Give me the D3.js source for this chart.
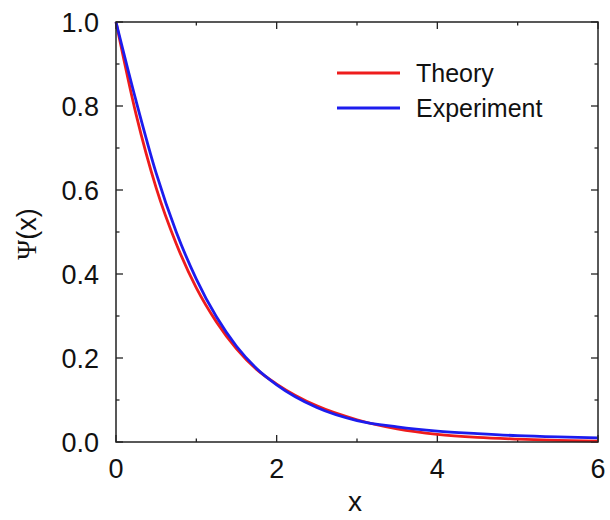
<!DOCTYPE html>
<html>
<head>
<meta charset="utf-8">
<script src="https://cdn.jsdelivr.net/npm/d3@7"></script>
<style>
  body { margin: 0; background: #fff; }
  text { font-family: "Liberation Sans", Arial, sans-serif; fill: #111; }
</style>
</head>
<body>
<div class="chart"></div>
<script>
const width = 610, height = 520

// values
const xs         = [0, 0.25, 0.5, 0.75, 1, 1.25, 1.5, 1.75, 2, 2.5, 3, 3.5, 4, 4.5, 5, 5.5, 6]
const theory     = [1.0, 0.78, 0.605, 0.472, 0.367, 0.286, 0.222, 0.173, 0.138, 0.086, 0.053, 0.031, 0.018, 0.011, 0.007, 0.004, 0.002]
const experiment = [1.0, 0.812, 0.64, 0.5, 0.388, 0.298, 0.228, 0.175, 0.136, 0.082, 0.051, 0.036, 0.026, 0.02, 0.015, 0.012, 0.01]
const seriesNames = ['Theory', 'Experiment']
const seriesColors = ['#ee1c1c', '#1c1cee']
const xTicks = [0, 2, 4, 6]
const yTicks = [0, 0.2, 0.4, 0.6, 0.8, 1.0]

const margin = { top: 22, right: 12, bottom: 78, left: 116 }

const svg = d3.select('.chart').append('svg')
    .attr('width', width)
    .attr('height', height)

const x = d3.scaleLinear().domain([0, 6]).range([margin.left, width - margin.right])
const y = d3.scaleLinear().domain([0, 1]).range([height - margin.bottom, margin.top])

const x0 = x.range()[0], x1 = x.range()[1]
const y0 = y.range()[0], y1 = y.range()[1]

// inward ticks on all four sides, gnuplot style
const major = 7, minor = 3.5
const tickStyle = g => g.selectAll('line').attr('stroke', '#222').attr('stroke-width', 1.3)

const xMinor = d3.range(0, 6.01, 1)
const yMinor = d3.range(0, 1.001, 0.1)

const ticks = svg.append('g').attr('class', 'ticks')
xMinor.forEach(v => {
    const len = v % 2 === 0 ? major : minor
    ticks.append('line').attr('x1', x(v)).attr('x2', x(v)).attr('y1', y0).attr('y2', y0 - len)
    ticks.append('line').attr('x1', x(v)).attr('x2', x(v)).attr('y1', y1).attr('y2', y1 + len)
})
yMinor.forEach((v, i) => {
    const len = i % 2 === 0 ? major : minor
    ticks.append('line').attr('x1', x0).attr('x2', x0 + len).attr('y1', y(v)).attr('y2', y(v))
    ticks.append('line').attr('x1', x1).attr('x2', x1 - len).attr('y1', y(v)).attr('y2', y(v))
})
ticks.call(tickStyle)

// tick labels
svg.append('g').selectAll('text')
    .data(xTicks)
    .enter().append('text')
    .attr('x', d => x(d))
    .attr('y', y0 + 36)
    .attr('text-anchor', 'middle')
    .style('font-size', '27px')
    .text(d => d)

svg.append('g').selectAll('text')
    .data(yTicks)
    .enter().append('text')
    .attr('x', x0 - 17)
    .attr('y', d => y(d) + 10)
    .attr('text-anchor', 'end')
    .style('font-size', '27px')
    .text(d => d.toFixed(1))

// curves
const line = d3.line()
    .x(d => x(d[0]))
    .y(d => y(d[1]))
    .curve(d3.curveMonotoneX)

const series = [theory, experiment]
series.forEach((vals, i) => {
    svg.append('path')
        .datum(xs.map((v, j) => [v, vals[j]]))
        .attr('d', line)
        .attr('fill', 'none')
        .attr('stroke', seriesColors[i])
        .attr('stroke-width', 2.8)
})

// frame
svg.append('rect')
    .attr('x', x0).attr('y', y1)
    .attr('width', x1 - x0).attr('height', y0 - y1)
    .attr('fill', 'none')
    .attr('stroke', '#222')
    .attr('stroke-width', 1.5)

// legend
const legend = svg.append('g').attr('class', 'legend')
seriesNames.forEach((name, i) => {
    const ly = 73 + i * 35
    legend.append('line')
        .attr('x1', 337).attr('x2', 400)
        .attr('y1', ly).attr('y2', ly)
        .attr('stroke', seriesColors[i])
        .attr('stroke-width', 2.8)
    legend.append('text')
        .attr('x', 416).attr('y', ly + 9)
        .style('font-size', '25px')
        .text(name)
})

// axis titles
svg.append('text')
    .attr('x', x(3) - 2)
    .attr('y', 511)
    .attr('text-anchor', 'middle')
    .style('font-size', '28px')
    .text('x')

const yTitle = svg.append('text')
    .attr('transform', 'translate(36,' + (y(0.5) + 2) + ') rotate(-90)')
    .attr('text-anchor', 'middle')
    .style('font-size', '27px')
yTitle.append('tspan').style('font-family', '"Liberation Serif", serif').text('Ψ')
yTitle.append('tspan').text('(x)')
</script>
</body>
</html>
